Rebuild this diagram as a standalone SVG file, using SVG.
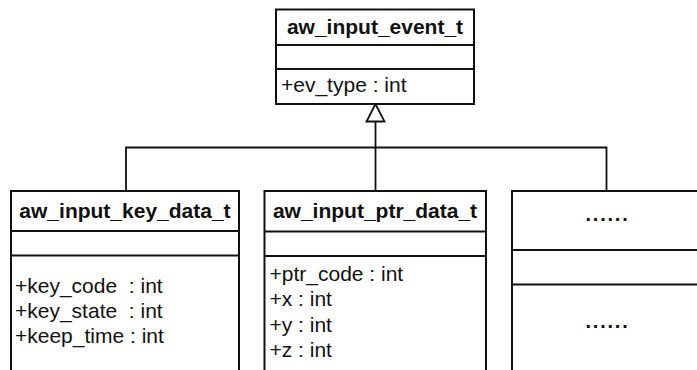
<svg xmlns="http://www.w3.org/2000/svg" width="697" height="370" viewBox="0 0 697 370">
  <style>
    .box { fill: #ffffff; stroke: #111111; stroke-width: 2; }
    .sep { stroke: #111111; stroke-width: 2; fill: none; }
    .edge { stroke: #111111; stroke-width: 1.8; fill: none; }
    .name { font-family: "Liberation Sans", Arial, sans-serif; font-size: 21px; font-weight: bold; fill: #111111; text-anchor: middle; }
    .attr { font-family: "Liberation Sans", Arial, sans-serif; font-size: 21px; fill: #111111; }
    .dots { font-family: "Liberation Sans", Arial, sans-serif; font-size: 20px; font-weight: bold; fill: #111111; text-anchor: middle; letter-spacing: 1.8px; }
  </style>
  <rect width="697" height="370" fill="#ffffff"/>

  <!-- generalisation connectors -->
  <g id="connectors">
    <polyline class="edge" points="126,191 126,147.5 606.5,147.5 606.5,191"/>
    <line class="edge" x1="375.5" y1="121.5" x2="375.5" y2="191"/>
    <polygon class="edge" fill="#ffffff" points="375.5,104 366.5,121.5 384.5,121.5"/>
  </g>

  <!-- base class -->
  <g id="aw_input_event_t">
    <rect class="box" x="276" y="9.5" width="198" height="94.5"/>
    <line class="sep" x1="276" y1="45" x2="474" y2="45"/>
    <line class="sep" x1="276" y1="69" x2="474" y2="69"/>
    <text class="name" x="375" y="34">aw_input_event_t</text>
    <text class="attr" x="281" y="91.5">+ev_type : int</text>
  </g>

  <!-- key event data -->
  <g id="aw_input_key_data_t">
    <rect class="box" x="11" y="191" width="228" height="190"/>
    <line class="sep" x1="11" y1="231" x2="239" y2="231"/>
    <line class="sep" x1="11" y1="255.5" x2="239" y2="255.5"/>
    <text class="name" x="125" y="218">aw_input_key_data_t</text>
    <text class="attr" x="15" y="293" xml:space="preserve">+key_code  : int</text>
    <text class="attr" x="15" y="318" xml:space="preserve">+key_state  : int</text>
    <text class="attr" x="15" y="343">+keep_time : int</text>
  </g>

  <!-- pointer event data -->
  <g id="aw_input_ptr_data_t">
    <rect class="box" x="264.5" y="191" width="221.5" height="190"/>
    <line class="sep" x1="264.5" y1="231.5" x2="486" y2="231.5"/>
    <line class="sep" x1="264.5" y1="256" x2="486" y2="256"/>
    <text class="name" x="375" y="218">aw_input_ptr_data_t</text>
    <text class="attr" x="269.5" y="280.5">+ptr_code : int</text>
    <text class="attr" x="269.5" y="306">+x : int</text>
    <text class="attr" x="269.5" y="331.5">+y : int</text>
    <text class="attr" x="269.5" y="356.5">+z : int</text>
  </g>

  <!-- further event data types -->
  <g id="other_data">
    <rect class="box" x="512" y="191" width="190" height="190"/>
    <line class="sep" x1="512" y1="250" x2="702" y2="250"/>
    <line class="sep" x1="512" y1="284.5" x2="702" y2="284.5"/>
    <text class="dots" x="607.5" y="221">......</text>
    <text class="dots" x="607.5" y="328">......</text>
  </g>
</svg>
